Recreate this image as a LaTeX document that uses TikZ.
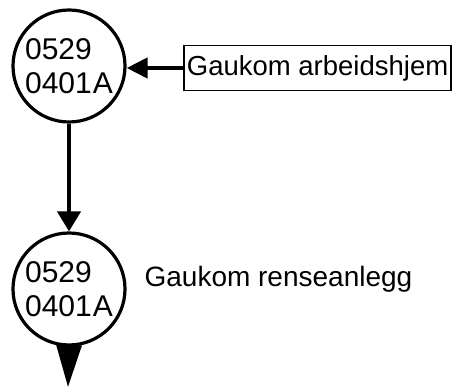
\documentclass[tikz,border=0pt]{standalone}
\usepackage{fontspec}
\setmainfont{Liberation Sans}
\usetikzlibrary{arrows.meta}

\begin{document}
\begin{tikzpicture}[x=1pt, y=-1pt, line width=3.2pt,
        every node/.style={font=\fontsize{28}{33}\selectfont},
        station/.style={circle, draw, minimum size=112pt, inner sep=0pt, align=left,
            font=\fontsize{30}{34}\selectfont},
        source/.style={draw, line width=1.8pt, minimum height=45pt, inner xsep=3pt, inner ysep=0pt,
            font=\fontsize{27.5}{33}\selectfont},
        feed/.style={line width=4.2pt, -{Triangle[length=21pt, width=20pt]}},
        flow/.style={line width=4.2pt, -{Triangle[length=20pt, width=23pt]}}]
    \useasboundingbox (0,0) rectangle (453,387);
    \node[station] (upper) at (69,66) {0529\\0401\kern1pt A};
    \node[station] (lower) at (69,289) {0529\\0401\kern1pt A};
    \node[source, anchor=west] (home) at (183,68) {Gaukom arbeidshjem};
    \node[anchor=base west, inner xsep=0pt] (plant) at (143,287) {Gaukom renseanlegg};
    \coordinate (out) at (68,387);
    \draw[feed] (home.west) -- (home.west -| upper.east);
    \draw[flow] (upper) -- (lower);
    \draw[-{Triangle[length=42pt, width=25pt]}] (lower.south) -- (out);
\end{tikzpicture}
\end{document}
